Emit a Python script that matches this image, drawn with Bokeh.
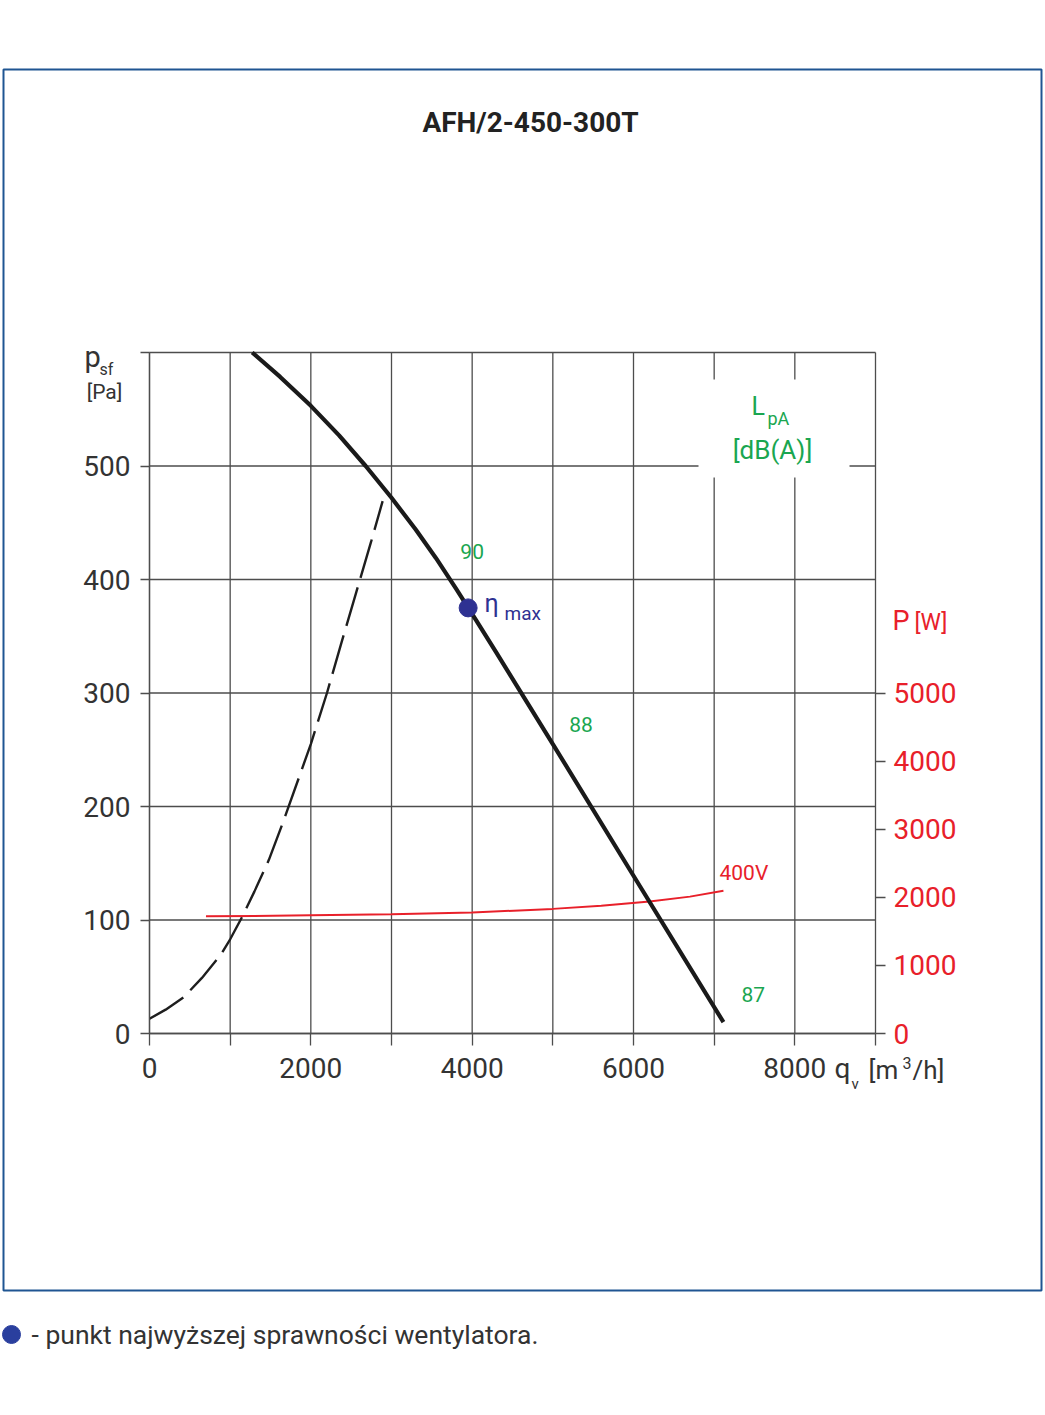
from bokeh.plotting import figure
from bokeh.models import Range1d, LinearAxis, FixedTicker, Label, BoxAnnotation
from bokeh.embed import file_html
from bokeh.resources import INLINE

# ---------------- data ----------------
title_text = "AFH/2-450-300T"

# fan curve  (q_v [m3/h], p_sf [Pa])
qv_fan = [1273, 1620, 2000, 2350, 2680, 3000, 3300, 3550, 3800, 4050, 4300, 4600, 5000, 6000, 7115]
psf_fan = [600, 578.5, 553, 527, 500, 472, 444, 419, 392, 364, 335.5, 301, 255, 139, 10]

# system curve (dashed)
qv_sys = [0, 200, 425, 650, 880, 1000, 1150, 1300, 1480, 1665, 2000, 2200, 2370, 2560, 2750, 2890]
psf_sys = [13, 21, 32, 49, 69, 83, 103, 125, 153, 188, 255, 300, 342, 388, 434, 469]

# power curve 400V (q_v [m3/h], P [W])
qv_pow = [700, 2000, 3000, 4000, 5000, 5600, 6200, 6700, 7115]
p_pow = [1720, 1735, 1750, 1775, 1830, 1877, 1940, 2010, 2097]

# max efficiency point
qv_eta = [3950]
psf_eta = [375]

# sound level labels
lpa_values = ["90", "88", "87"]
lpa_qv = [4000, 5350, 7485]
lpa_psf = [425, 272, 34]

x_ticks = [0, 1000, 2000, 3000, 4000, 5000, 6000, 7000, 8000, 9000]
x_tick_labels = ["0", "", "2000", "", "4000", "", "6000", "", "8000", ""]
y_ticks = [0, 100, 200, 300, 400, 500, 600]
y_tick_labels = ["0", "100", "200", "300", "400", "500", ""]
p_ticks = [0, 1000, 2000, 3000, 4000, 5000]
p_tick_labels = ["0", "1000", "2000", "3000", "4000", "5000"]

x_min, x_max = 0, 9000
y_min, y_max = 0, 600
w_per_pa = 10000.0 / 600.0  # right-axis scale: 5000 W <-> 300 Pa

# ---------------- figure ----------------
FONT = "Roboto"
GRID = "#4d4d4d"
TXT = "#333333"
GREEN = "#1aa650"
RED = "#e8202a"
BLUE = "#2e3192"

W, H = 1044, 1410

# page pixel -> data position (only used to place annotations / set ranges)
def X(px):
    return (px - 149) * 9000.0 / 726.0

def Y(py):
    return (1033 - py) * 600.0 / 681.0

p = figure(frame_width=W, frame_height=H, min_border=0, title=None,
           x_range=Range1d(X(0), X(W)), y_range=Range1d(Y(H), Y(0)),
           x_axis_location=None, y_axis_location=None,
           output_backend="svg", toolbar_location=None,
           background_fill_color="white", border_fill_color="white")
p.grid.visible = False
p.outline_line_color = None

def style_axis(ax, color, tick_out, standoff):
    ax.axis_line_color = GRID
    ax.axis_line_width = 1.3
    ax.major_tick_line_color = GRID
    ax.major_tick_line_width = 1.3
    ax.major_tick_in = 0
    ax.major_tick_out = tick_out
    ax.minor_tick_in = 0
    ax.minor_tick_out = 0
    ax.major_label_standoff = standoff
    ax.major_label_text_font = FONT
    ax.major_label_text_font_size = "28px"
    ax.major_label_text_color = color

xax = LinearAxis(fixed_location=y_min, bounds=(x_min, x_max),
                 ticker=FixedTicker(ticks=x_ticks),
                 major_label_overrides={t: l for t, l in zip(x_ticks, x_tick_labels)})
style_axis(xax, TXT, 12, 12)
p.add_layout(xax, "below")

yax = LinearAxis(fixed_location=x_min, bounds=(y_min, y_max),
                 ticker=FixedTicker(ticks=y_ticks),
                 major_label_overrides={t: l for t, l in zip(y_ticks, y_tick_labels)})
style_axis(yax, TXT, 9, 10)
p.add_layout(yax, "left")

p.extra_y_ranges = {"P": Range1d(Y(H) * w_per_pa, Y(0) * w_per_pa)}
rax = LinearAxis(y_range_name="P", fixed_location=x_max, bounds=(0, 5000),
                 ticker=FixedTicker(ticks=p_ticks),
                 major_label_overrides={t: l for t, l in zip(p_ticks, p_tick_labels)})
style_axis(rax, RED, 10, 8)
rax.axis_line_color = None
p.add_layout(rax, "right")

# grid lines (incl. top and right frame lines)
p.segment(x0=x_ticks, y0=[y_min] * len(x_ticks), x1=x_ticks, y1=[y_max] * len(x_ticks),
          line_color=GRID, line_width=1.3)
p.segment(x0=[x_min] * len(y_ticks), y0=y_ticks, x1=[x_max] * len(y_ticks), y1=y_ticks,
          line_color=GRID, line_width=1.3)

# white patch behind L_pA label (interrupts grid)
p.quad(left=[X(698)], right=[X(849)], top=[Y(379)], bottom=[Y(477)],
       fill_color="white", line_color=None)

# curves
p.line(qv_sys, psf_sys, line_color="#1e1e1e", line_width=2.4, line_dash="40 10")
p.line(qv_pow, p_pow, y_range_name="P", line_color=RED, line_width=2)
p.line(qv_fan, psf_fan, line_color="#1a1a1a", line_width=4.2, line_join="round")
p.scatter(qv_eta, psf_eta, size=18, fill_color=BLUE, line_color=BLUE)

def lab(x, y, text, size, color=TXT, align="left", baseline="middle", style="normal"):
    p.add_layout(Label(x=x, y=y, text=text, text_font=FONT,
                       text_font_size=f"{size}px", text_color=color,
                       text_align=align, text_baseline=baseline,
                       text_font_style=style))

for v, q, s in zip(lpa_values, lpa_qv, lpa_psf):
    lab(q, s, v, 21, GREEN, align="center")

lab(X(530), Y(122), title_text, 28, "#222222", align="center", style="bold")

lab(X(84), Y(356), "p", 29)
lab(X(99), Y(369), "sf", 16)
lab(X(104), Y(391), "[Pa]", 21, align="center")

lab(X(751), Y(406), "L", 25, GREEN)
lab(X(767), Y(418), "pA", 18, GREEN)
lab(X(772), Y(449), "[dB(A)]", 26, GREEN, align="center")

lab(X(484), Y(603), "\u03b7", 25, BLUE)
lab(X(504), Y(613), "max", 19, BLUE)

lab(X(892), Y(620), "P", 27, RED)
lab(X(914), Y(622), "[W]", 23, RED)

lab(X(719), Y(872), "400V", 21, RED)

lab(X(834), Y(1068), "q", 28)
lab(X(851), Y(1083), "v", 15)
lab(X(868), Y(1069), "[m", 26)
lab(X(902), Y(1062), "3", 16)
lab(X(912), Y(1069), "/h]", 26)

# outer blue frame
p.add_layout(BoxAnnotation(left=X(3), right=X(1041), top=Y(69), bottom=Y(1290),
                           fill_alpha=0, line_color="#1f5592", line_alpha=1.0,
                           line_width=2))

# footer
p.scatter([X(11)], [Y(1334)], size=18, fill_color="#2a3f9e", line_color="#2a3f9e")
lab(X(31), Y(1334), "- punkt najwy\u017cszej sprawno\u015bci wentylatora.", 26.5, TXT)

open("out.html", "w").write(file_html(p, INLINE))
